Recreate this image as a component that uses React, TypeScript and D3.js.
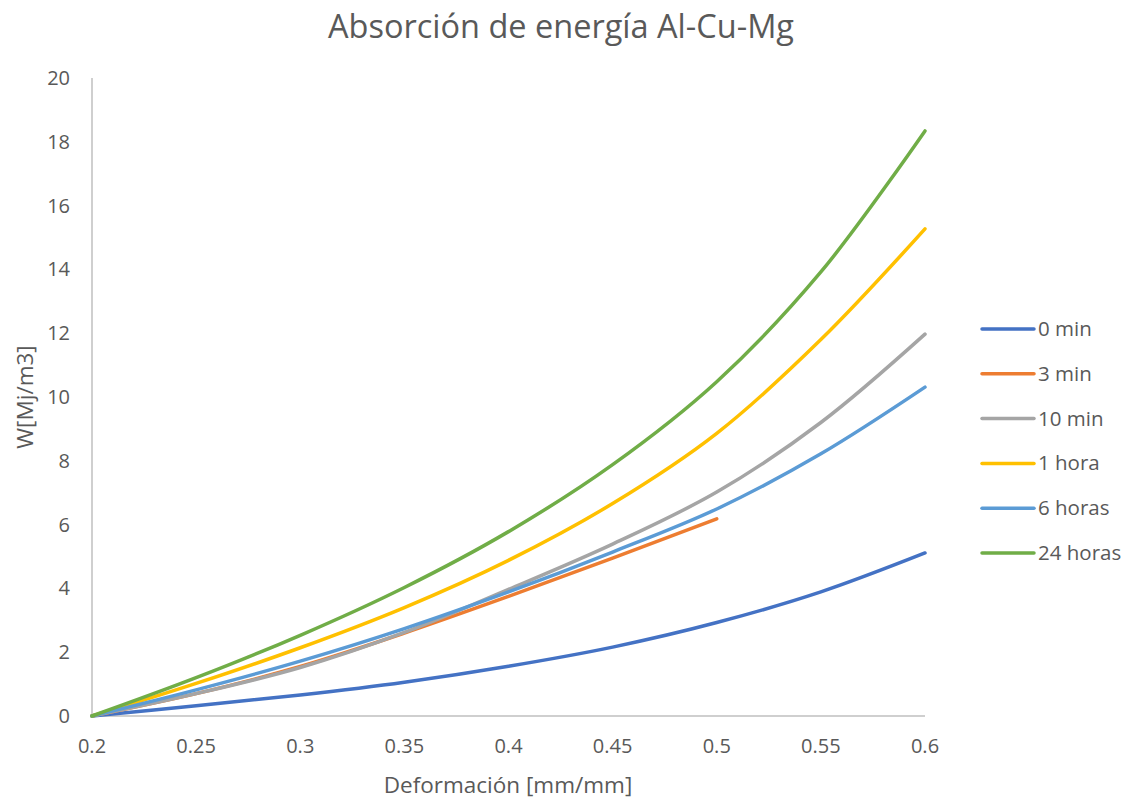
import * as d3 from "d3";
import {useEffect, useRef} from "react";

// strain values (x axis)
const strain = [0.2, 0.25, 0.3, 0.35, 0.4, 0.45, 0.5, 0.55, 0.6];

const seriesNames = ["0 min", "3 min", "10 min", "1 hora", "6 horas", "24 horas"];
const seriesColors = ["#4472C4", "#ED7D31", "#A5A5A5", "#FFC000", "#5B9BD5", "#70AD47"];

const w0min = [0, 0.32, 0.66, 1.06, 1.56, 2.16, 2.93, 3.89, 5.11];
const w3min = [0, 0.7, 1.55, 2.6, 3.75, 4.95, 6.18];
const w10min = [0, 0.7, 1.52, 2.62, 3.97, 5.39, 7.02, 9.2, 11.97];
const w1hora = [0, 1.02, 2.14, 3.4, 4.88, 6.66, 8.86, 11.8, 15.27];
const w6horas = [0, 0.82, 1.72, 2.74, 3.89, 5.14, 6.49, 8.22, 10.31];
const w24horas = [0, 1.2, 2.53, 4.03, 5.78, 7.88, 10.48, 13.92, 18.34];

const seriesValues = [w0min, w3min, w10min, w1hora, w6horas, w24horas];

const xTicks = [0.2, 0.25, 0.3, 0.35, 0.4, 0.45, 0.5, 0.55, 0.6];
const yTicks = [0, 2, 4, 6, 8, 10, 12, 14, 16, 18, 20];

export default function App() {
    const svgRef = useRef(null);
    const width = 1130;
    const height = 801;
    const font = "'Open Sans', sans-serif";
    const textColor = "#595959";
    const axisColor = "#BFBFBF";

    useEffect(() => {
        if (!svgRef.current) return;
        const svg = d3.select(svgRef.current);
        svg.selectAll("*").remove();

        const x = d3.scaleLinear().domain([0.2, 0.6]).range([92, 925]);
        const y = d3.scaleLinear().domain([0, 20]).range([716, 78]);

        // title
        svg.append("text")
            .attr("x", 561)
            .attr("y", 38)
            .attr("text-anchor", "middle")
            .attr("font-family", font)
            .attr("font-size", 32.5)
            .attr("fill", textColor)
            .text("Absorción de energía Al-Cu-Mg");

        // axes lines
        svg.append("line")
            .attr("x1", x(0.2)).attr("x2", x(0.2))
            .attr("y1", y(20)).attr("y2", y(0))
            .attr("stroke", axisColor).attr("stroke-width", 1.5);
        svg.append("line")
            .attr("x1", x(0.2)).attr("x2", x(0.6))
            .attr("y1", y(0)).attr("y2", y(0))
            .attr("stroke", axisColor).attr("stroke-width", 1.5);

        // tick labels
        svg.append("g").selectAll("text")
            .data(xTicks)
            .join("text")
            .attr("x", d => x(d))
            .attr("y", 753)
            .attr("text-anchor", "middle")
            .attr("font-family", font)
            .attr("font-size", 20)
            .attr("fill", textColor)
            .text(d => String(d));

        svg.append("g").selectAll("text")
            .data(yTicks)
            .join("text")
            .attr("x", 70)
            .attr("y", d => y(d) + 7)
            .attr("text-anchor", "end")
            .attr("font-family", font)
            .attr("font-size", 20)
            .attr("fill", textColor)
            .text(d => String(d));

        // axis titles
        svg.append("text")
            .attr("x", 508)
            .attr("y", 793)
            .attr("text-anchor", "middle")
            .attr("font-family", font)
            .attr("font-size", 22.5)
            .attr("fill", textColor)
            .text("Deformación [mm/mm]");

        svg.append("text")
            .attr("transform", "translate(33,397) rotate(-90)")
            .attr("text-anchor", "middle")
            .attr("font-family", font)
            .attr("font-size", 22.5)
            .attr("fill", textColor)
            .text("W[Mj/m3]");

        // curves (smoothed like Excel)
        const line = d3.line<[number, number]>()
            .x(d => x(d[0]))
            .y(d => y(d[1]))
            .curve(d3.curveCatmullRom.alpha(0.5));

        seriesValues.forEach((vals, i) => {
            const pts: [number, number][] = vals.map((v, j) => [strain[j], v]);
            svg.append("path")
                .attr("d", line(pts))
                .attr("fill", "none")
                .attr("stroke", seriesColors[i])
                .attr("stroke-width", 3.5)
                .attr("stroke-linecap", "round");
        });

        // legend
        const legend = svg.append("g");
        seriesNames.forEach((name, i) => {
            const ly = 329 + i * 44.8;
            legend.append("line")
                .attr("x1", 982).attr("x2", 1034)
                .attr("y1", ly).attr("y2", ly)
                .attr("stroke", seriesColors[i])
                .attr("stroke-width", 3.5)
                .attr("stroke-linecap", "round");
            legend.append("text")
                .attr("x", 1038)
                .attr("y", ly + 7)
                .attr("font-family", font)
                .attr("font-size", 20.5)
                .attr("fill", textColor)
                .text(name);
        });
    }, []);

    return (
        <svg ref={svgRef} width={width} height={height}
             style={{position: "absolute", left: 0, top: 0, background: "#fff"}}></svg>
    );
}
